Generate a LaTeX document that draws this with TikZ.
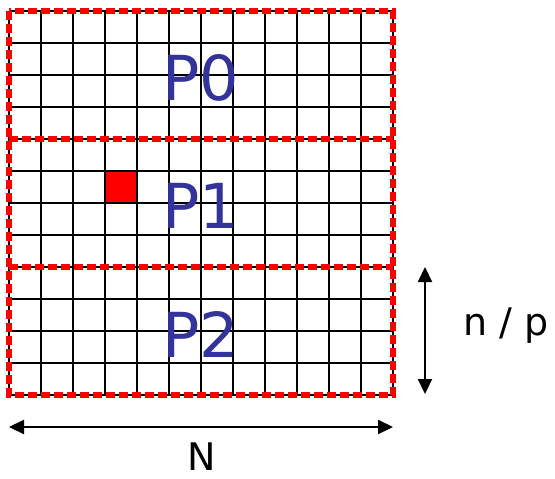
\documentclass[tikz,border=0pt]{standalone}
\usepackage{fontspec}
\setmainfont{DejaVu Sans}
\usetikzlibrary{arrows.meta,positioning}
\definecolor{partblue}{RGB}{51,51,153}
\tikzset{>={Triangle[length=15pt,width=14pt]},
  gridline/.style={draw=black, line width=2.4pt},
  partbox/.style={draw=red, line width=5.5pt, dash pattern=on 9pt off 4pt},
  partlbl/.style={text=partblue, font=\fontsize{62}{62}\selectfont, inner sep=0pt},
  dimlbl/.style={font=\fontsize{38}{38}\selectfont, inner sep=0pt, anchor=base},
  dimarrow/.style={<->, line width=2.2pt}}

\begin{document}
\begin{tikzpicture}[x=1pt, y=-1pt]
  \useasboundingbox (0,0) rectangle (555,479);
  % selected cell
  \fill[red] (105,171) rectangle (137,203);
  % grid cells
  \foreach \i in {0,...,12} {
    \draw[gridline] ({9+32*\i},11) -- ({9+32*\i},395);
    \draw[gridline] (9,{11+32*\i}) -- (393,{11+32*\i});
  }
  % partitions
  \draw[partbox] (9,11) rectangle (393,395);
  \foreach \k in {1,2}
    \draw[partbox] (9,{11+128*\k}) -- (393,{11+128*\k});
  \foreach \k in {0,1,2}
    \node[partlbl] (p\k) at (201,{78+128*\k}) {P\k};
  % dimensions
  \coordinate (ntop) at (425,267);
  \coordinate (nbot) at (425,394);
  \coordinate (wleft) at (9,427);
  \coordinate (wright) at (393,427);
  \draw[dimarrow] (ntop) -- (nbot);
  \draw[dimarrow] (wleft) -- (wright);
  \node[dimlbl] (hlbl) at (506,335) {n / p};
  \node[dimlbl] (wlbl) at (202,470) {N};
\end{tikzpicture}
\end{document}
